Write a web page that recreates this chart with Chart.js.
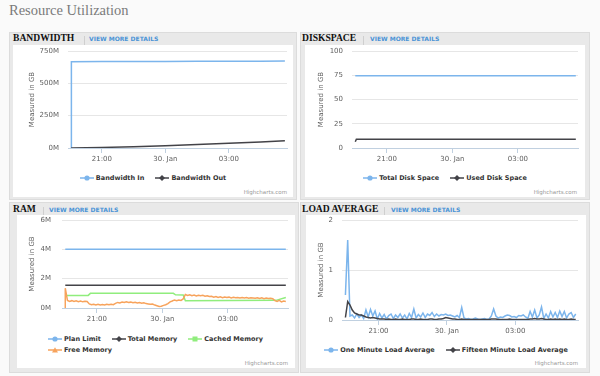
<!DOCTYPE html>
<html>
<head>
<meta charset="utf-8">
<script src="https://cdn.jsdelivr.net/npm/chart.js@4.4.0/dist/chart.umd.min.js"></script>
<style>
  html, body { margin: 0; padding: 0; }
  body { width: 600px; height: 376px; background: #fafafa; position: relative; overflow: hidden; font-family: 'DejaVu Sans', sans-serif; }
  .page-title { position: absolute; left: 9px; top: 1px; font: 14.5px/18px 'Liberation Serif', serif; color: #7a7a7a; }
  .panel { position: absolute; background: #e9e9e9; box-shadow: inset 0 0 0 1px #dcdcdc; }
  .panel h2 { position: absolute; margin: 0; font: bold 9.6px/10px 'Liberation Serif', serif; color: #111; white-space: nowrap; }
  .panel .sep { position: absolute; width: 1px; height: 9px; background: #cfcfcf; }
  .panel .more { position: absolute; font: bold 6px/6px 'DejaVu Sans', sans-serif; color: #4b93d6; white-space: nowrap; }
  .plot { position: absolute; background: #fff; }
  .cv { position: absolute; left: 0; top: 0; }
  .legend { position: absolute; display: flex; flex-wrap: wrap; column-gap: 11px; font: bold 6.5px 'DejaVu Sans', sans-serif; color: #333; }
  .legend .item { display: flex; align-items: center; height: 11px; white-space: nowrap; }
  .legend svg { margin-right: 2px; }
  .credit { position: absolute; font: 5.5px/6px 'DejaVu Sans', sans-serif; color: #999; }
</style>
</head>
<body>
<div class="page-title">Resource Utilization</div>

<div class="panel" style="left:9px;top:32px;width:288px;height:168px">
  <h2 style="left:4px;top:1px">BANDWIDTH</h2>
  <div class="sep" style="left:75px;top:4px"></div>
  <div class="more" style="left:80px;top:4px">VIEW MORE DETAILS</div>
  <div class="plot" style="left:4px;top:13px;width:280px;height:152px">
    <div class="cv" style="width:280px;height:121px"><canvas id="bwChart"></canvas></div>
    <div class="legend" id="bwLegend" style="left:0;top:127px;width:280px;justify-content:center"></div>
    <div class="credit" style="right:6px;bottom:2px">Highcharts.com</div>
  </div>
</div>

<div class="panel" style="left:300px;top:32px;width:290px;height:168px">
  <h2 style="left:2px;top:1px">DISKSPACE</h2>
  <div class="sep" style="left:63px;top:4px"></div>
  <div class="more" style="left:70px;top:4px">VIEW MORE DETAILS</div>
  <div class="plot" style="left:5px;top:13px;width:280px;height:152px">
    <div class="cv" style="width:280px;height:121px"><canvas id="diskChart"></canvas></div>
    <div class="legend" id="diskLegend" style="left:0;top:127px;width:280px;justify-content:center"></div>
    <div class="credit" style="right:8px;bottom:2px">Highcharts.com</div>
  </div>
</div>

<div class="panel" style="left:9px;top:202px;width:290px;height:171px">
  <h2 style="left:4px;top:2px">RAM</h2>
  <div class="sep" style="left:34px;top:5px"></div>
  <div class="more" style="left:40px;top:5px">VIEW MORE DETAILS</div>
  <div class="plot" style="left:8px;top:13px;width:278px;height:153px">
    <div class="cv" style="width:278px;height:111px"><canvas id="ramChart"></canvas></div>
    <div class="legend" id="ramLegend" style="left:31px;top:118px;width:226px;justify-content:flex-start"></div>
    <div class="credit" style="right:7px;bottom:2px">Highcharts.com</div>
  </div>
</div>

<div class="panel" style="left:300px;top:202px;width:290px;height:171px">
  <h2 style="left:2px;top:2px">LOAD AVERAGE</h2>
  <div class="sep" style="left:84px;top:5px"></div>
  <div class="more" style="left:91px;top:5px">VIEW MORE DETAILS</div>
  <div class="plot" style="left:6px;top:13px;width:280px;height:153px">
    <div class="cv" style="width:280px;height:123px"><canvas id="loadChart"></canvas></div>
    <div class="legend" id="loadLegend" style="left:0;top:129px;width:280px;justify-content:center"></div>
    <div class="credit" style="right:8px;bottom:2px">Highcharts.com</div>
  </div>
</div>

<script>
// time axis, in hours relative to 30 Jan 00:00
const xMin = -4.6, xMax = 5.75;
const xTicks = [-3, 0, 3];
const xLabels = ['21:00', '30. Jan', '03:00'];
// regular samples (every 6 minutes) start here
const startHour = -4.45, stepHour = 0.1;

const colors = ['#7cb5ec', '#434348', '#90ed7d', '#f7a35c'];
const symbols = ['circle', 'diamond', 'square', 'triangle'];

// ── Bandwidth ──
const bwNames = ['Bandwidth In', 'Bandwidth Out'];
const bwTimes = [-4.45, -4.44, -3, -1.5, 0, 1.5, 3, 4.5, 5.65];
const bwIn    = [0, 667, 668, 668, 669, 670, 671, 671, 672];
const bwOut   = [0, 0, 4, 10, 18, 27, 36, 46, 56];
const bwTicks  = [0, 250, 500, 750];
const bwLabels = ['0M', '250M', '500M', '750M'];

// ── Disk space ──
const diskNames = ['Total Disk Space', 'Used Disk Space'];
const diskTimes = [-4.45, -4.4, 5.65];
const diskTotal = [74.6, 74.6, 74.6];
const diskUsed  = [6.5, 9, 9];
const diskTicks  = [0, 25, 50, 75, 100];
const diskLabels = ['0', '25', '50', '75', '100'];

// ── RAM ──
const ramNames = ['Plan Limit', 'Total Memory', 'Cached Memory', 'Free Memory'];
const ramFlatTimes = [-4.45, 5.65];
const ramPlan  = [4, 4];
const ramTotal = [1.55, 1.55];
const cachedTimes = [-4.45, -3.4, -3.3, 0.5, 0.6, 0.95, 1.05, 5.2, 5.65];
const cachedVals  = [0.85, 0.86, 1.0, 1.0, 0.9, 0.88, 0.5, 0.52, 0.72];
const freeStart = [-4.46, -4.45];   // the series opens with a jump up from zero
const freeStartVals = [0, 1.35];
const freeMem = [
  1.35, 0.52, 0.45, 0.5, 0.44, 0.49, 0.43, 0.47, 0.42, 0.46, 0.44,
  0.28, 0.22, 0.26, 0.2, 0.25, 0.21, 0.24, 0.2, 0.25, 0.22, 0.26, 0.23,
  0.32, 0.38, 0.35, 0.41, 0.37, 0.42, 0.38, 0.4, 0.36, 0.39, 0.34, 0.37, 0.32, 0.35, 0.3,
  0.28, 0.25, 0.27, 0.2, 0.15, 0.1, 0.12, 0.18, 0.22,
  0.3, 0.42, 0.48, 0.55, 0.5, 0.55, 0.52,
  0.62,
  0.92, 0.86, 0.9, 0.84, 0.88, 0.82, 0.87, 0.83, 0.86, 0.8, 0.84, 0.78,
  0.8, 0.74, 0.78, 0.72, 0.76, 0.7, 0.75, 0.71, 0.74, 0.69, 0.73, 0.7, 0.72, 0.68, 0.72, 0.69, 0.71, 0.67, 0.7,
  0.68, 0.66, 0.7, 0.65, 0.69, 0.64, 0.68, 0.65, 0.67, 0.63,
  0.5, 0.45, 0.52, 0.42, 0.48, 0.45
];
const ramTicks  = [0, 2, 4, 6];
const ramLabels = ['0M', '2M', '4M', '6M'];

// ── Load average ──
const loadNames = ['One Minute Load Average', 'Fifteen Minute Load Average'];
const loadOne = [
  0.5, 1.6, 0.08, 0.1, 0.04, 0.12, 0.05, 0.1, 0.03, 0.2,
  0.06, 0.21, 0.08, 0.18, 0.02, 0.13, 0.04, 0.11, 0.02, 0.09,
  0.12, 0.03, 0.1, 0.05, 0.12, 0.04, 0.1, 0.02, 0.13, 0.05,
  0.22, 0.04, 0.11, 0.06, 0.14, 0.05, 0.12, 0.09, 0.15, 0.07,
  0.12, 0.08, 0.11, 0.1, 0.12, 0.09, 0.1, 0.08, 0.06, 0.09,
  0.05, 0.25, 0.04, 0.02, 0.03, 0.01, 0.02, 0.04, 0.02, 0.01,
  0.02, 0.03, 0.01, 0.02, 0.08, 0.22, 0.08, 0.04, 0.06, 0.05,
  0.08, 0.1, 0.09, 0.06, 0.07, 0.05, 0.09, 0.08, 0.1, 0.06,
  0.03, 0.17, 0.06, 0.2, 0.04, 0.1, 0.26, 0.03, 0.12, 0.04,
  0.17, 0.06, 0.15, 0.05, 0.18, 0.07, 0.17, 0.04, 0.12, 0.15,
  0.05, 0.12
];
const loadFifteen = [
  0.05, 0.37, 0.3, 0.2, 0.14, 0.12, 0.1, 0.1, 0.08, 0.06,
  0.05, 0.04, 0.05, 0.04, 0.03, 0.02, 0.02, 0.02, 0.01, 0.02,
  0.01, 0.01, 0.02, 0.01, 0.01, 0.02, 0.01, 0.01, 0.01, 0.02,
  0.02, 0.01, 0.01, 0.02, 0.01, 0.01, 0.01, 0.02, 0.02, 0.01,
  0.01, 0.02, 0.02, 0.03, 0.05, 0.04, 0.03, 0.02, 0.02, 0.01,
  0.01, 0.02, 0.01, 0.01, 0.01, 0.01, 0.01, 0.01, 0.01, 0.01,
  0.01, 0.01, 0.01, 0.01, 0.02, 0.02, 0.02, 0.01, 0.01, 0.01,
  0.01, 0.01, 0.02, 0.01, 0.01, 0.01, 0.01, 0.01, 0.01, 0.01,
  0.01, 0.02, 0.02, 0.03, 0.02, 0.02, 0.03, 0.02, 0.01, 0.01,
  0.02, 0.01, 0.02, 0.01, 0.02, 0.01, 0.02, 0.01, 0.01, 0.02,
  0.01, 0.01
];
const loadTicks  = [0, 1, 2];
const loadLabels = ['0', '1', '2'];

Chart.defaults.font.family = 'DejaVu Sans';
Chart.defaults.font.size = 7;
Chart.defaults.color = '#606060';

const pts = (xs, ys) => ys.map((y, i) => ({ x: xs[i], y }));
const sampled = ys => ys.map((y, i) => ({ x: startHour + i * stepHour, y }));

function symbolSvg(kind, color) {
  let mark = '';
  if (kind === 'circle') mark = `<circle cx="7" cy="4" r="2.6" fill="${color}"/>`;
  else if (kind === 'diamond') mark = `<path d="M7 1 L10 4 L7 7 L4 4Z" fill="${color}"/>`;
  else if (kind === 'square') mark = `<rect x="4.5" y="1.5" width="5" height="5" fill="${color}"/>`;
  else mark = `<path d="M7 1.2 L10 6.6 L4 6.6Z" fill="${color}"/>`;
  return `<svg width="14" height="8" viewBox="0 0 14 8"><line x1="0" y1="4" x2="14" y2="4" stroke="${color}" stroke-width="1.5"/>${mark}</svg>`;
}

function buildLegend(id, names) {
  document.getElementById(id).innerHTML = names.map((n, i) =>
    `<span class="item">${symbolSvg(symbols[i], colors[i])}${n}</span>`).join('');
}

function makeChart(id, o) {
  new Chart(document.getElementById(id), {
    type: 'line',
    data: {
      datasets: o.series.map((s, i) => ({
        label: s.label,
        data: s.data,
        borderColor: colors[i],
        borderWidth: 1.5,
        pointRadius: 0,
        tension: 0,
        fill: false,
        order: o.series.length - i
      }))
    },
    options: {
      responsive: true,
      maintainAspectRatio: false,
      animation: false,
      layout: { padding: { top: o.top, right: o.right, left: 0, bottom: 0 } },
      plugins: { legend: { display: false }, tooltip: { enabled: false } },
      scales: {
        x: {
          type: 'linear', min: xMin, max: xMax,
          afterBuildTicks: s => { s.ticks = xTicks.map(v => ({ value: v })); },
          afterFit: s => { s.height = 18; s.paddingLeft = 0; s.paddingRight = 0; },
          ticks: { callback: v => xLabels[xTicks.indexOf(v)], padding: 2, maxRotation: 0, autoSkip: false },
          grid: { drawOnChartArea: false, drawTicks: true, tickLength: 5, color: '#c0d0e0' },
          border: { display: true, color: '#c0d0e0' }
        },
        y: {
          min: 0, max: o.yTicks[o.yTicks.length - 1],
          afterBuildTicks: s => { s.ticks = o.yTicks.map(v => ({ value: v })); },
          afterFit: s => { s.width = o.yWidth; s.paddingTop = 0; s.paddingBottom = 0; },
          ticks: { callback: v => o.yLabels[o.yTicks.indexOf(v)], padding: o.tickPad },
          grid: { color: '#e6e6e6', drawTicks: false },
          border: { display: false },
          title: { display: true, text: 'Measured in GB', padding: { top: o.titlePad, bottom: 0 } }
        }
      }
    }
  });
}

buildLegend('bwLegend', bwNames);
buildLegend('diskLegend', diskNames);
buildLegend('ramLegend', ramNames);
buildLegend('loadLegend', loadNames);

makeChart('bwChart', {
  series: [
    { label: bwNames[0], data: pts(bwTimes, bwIn) },
    { label: bwNames[1], data: pts(bwTimes, bwOut) }
  ],
  yTicks: bwTicks, yLabels: bwLabels,
  top: 6, right: 6, yWidth: 55, tickPad: 9, titlePad: 15
});

makeChart('diskChart', {
  series: [
    { label: diskNames[0], data: pts(diskTimes, diskTotal) },
    { label: diskNames[1], data: pts(diskTimes, diskUsed) }
  ],
  yTicks: diskTicks, yLabels: diskLabels,
  top: 6, right: 7, yWidth: 47, tickPad: 9, titlePad: 11.5
});

makeChart('ramChart', {
  series: [
    { label: ramNames[0], data: pts(ramFlatTimes, ramPlan) },
    { label: ramNames[1], data: pts(ramFlatTimes, ramTotal) },
    { label: ramNames[2], data: pts(cachedTimes, cachedVals) },
    { label: ramNames[3], data: pts(freeStart, freeStartVals).concat(sampled(freeMem).slice(1)) }
  ],
  yTicks: ramTicks, yLabels: ramLabels,
  top: 5, right: 7, yWidth: 45, tickPad: 11, titlePad: 11
});

makeChart('loadChart', {
  series: [
    { label: loadNames[0], data: sampled(loadOne) },
    { label: loadNames[1], data: sampled(loadFifteen) }
  ],
  yTicks: loadTicks, yLabels: loadLabels,
  top: 5, right: 8, yWidth: 36, tickPad: 9, titlePad: 10.5
});
</script>
</body>
</html>
